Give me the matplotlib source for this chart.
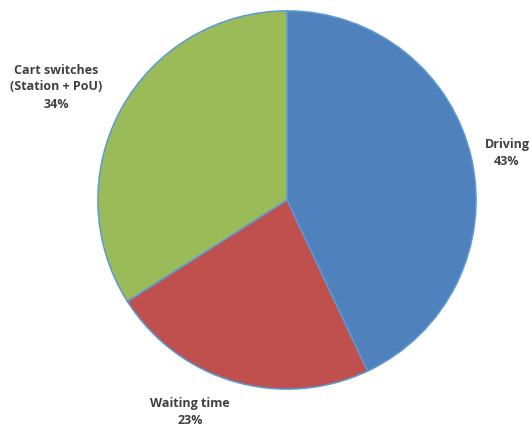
import matplotlib
matplotlib.use("Agg")
import matplotlib.pyplot as plt

categories = ["Driving", "Waiting time", "Cart switches\n(Station + PoU)"]
shares = [43, 23, 34]
colors = ["#4f81bd", "#c0504d", "#9bbb59"]

W, H = 530, 428
fig = plt.figure(figsize=(W / 100, H / 100), dpi=100)
cx, cy, r = 287, 200, 191
ax = fig.add_axes([(cx - r) / W, (H - cy - r) / H, 2 * r / W, 2 * r / H])
ax.pie(shares, colors=colors, startangle=90, counterclock=False, radius=1,
       wedgeprops=dict(edgecolor="#5b9bd5", linewidth=1.1))
ax.set_xlim(-1.01, 1.01)
ax.set_ylim(-1.01, 1.01)
ax.set_aspect("equal")
ax.axis("off")

label_px = [(507, 153), (190, 412), (56, 87)]
for cat, val, (px, py) in zip(categories, shares, label_px):
    fig.text(px / W, 1 - py / H, f"{cat}\n{val}%", ha="center", va="center",
             fontsize=9, fontweight="bold", color="#404040", family="Open Sans",
             linespacing=1.4)

fig.savefig("out.png", dpi=100)
